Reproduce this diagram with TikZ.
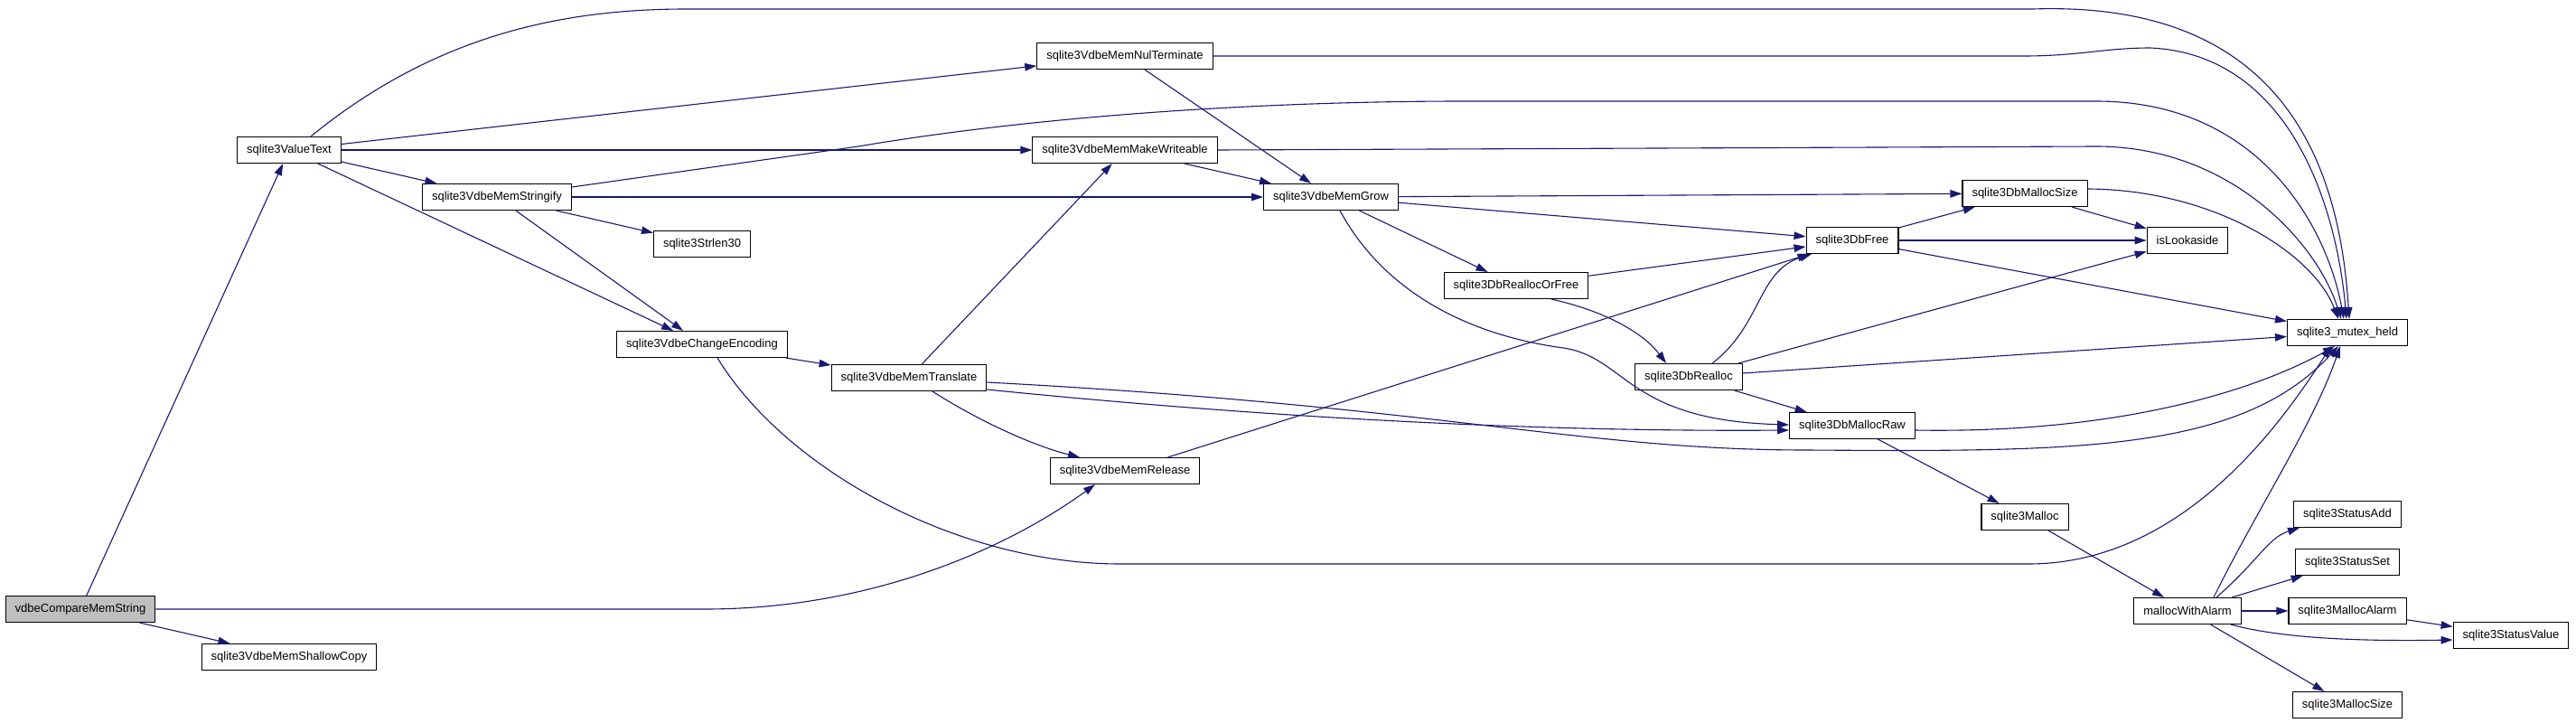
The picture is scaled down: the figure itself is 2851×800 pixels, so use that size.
\documentclass[tikz,border=0pt]{standalone}
\usepackage{fontspec}
\setmainfont{Liberation Sans}
\usetikzlibrary{arrows.meta}
\definecolor{edgeblue}{RGB}{25,25,112}
\definecolor{rootgray}{RGB}{191,191,191}

\begin{document}
\begin{tikzpicture}[
    x=1pt, y=-1pt,
    fn/.style={draw, line width=1.1pt, fill=white, minimum height=29pt, inner xsep=10.5pt, inner ysep=0pt, font=\fontsize{13}{15}\selectfont},
    root/.style={fn, fill=rootgray},
    call/.style={edgeblue, line width=1.1pt, -{Triangle[length=13pt,width=8.5pt]}}
  ]
  \useasboundingbox (0,0) rectangle (2851,800);

  % functions
  \node[root] (cmp) at (89,674) {vdbeCompareMemString};
  \node[fn] (valtext) at (320,166) {sqlite3ValueText};
  \node[fn] (shallow) at (320,727) {sqlite3VdbeMemShallowCopy};
  \node[fn] (stringify) at (550,218) {sqlite3VdbeMemStringify};
  \node[fn] (strlen) at (777,270) {sqlite3Strlen30};
  \node[fn] (chenc) at (777,381) {sqlite3VdbeChangeEncoding};
  \node[fn] (nulterm) at (1245,62) {sqlite3VdbeMemNulTerminate};
  \node[fn] (mkwrite) at (1245,166) {sqlite3VdbeMemMakeWriteable};
  \node[fn] (translate) at (1006,418) {sqlite3VdbeMemTranslate};
  \node[fn] (release) at (1245,521) {sqlite3VdbeMemRelease};
  \node[fn] (grow) at (1473,218) {sqlite3VdbeMemGrow};
  \node[fn] (reallocfree) at (1678,316) {sqlite3DbReallocOrFree};
  \node[fn] (realloc) at (1869,417) {sqlite3DbRealloc};
  \node[fn] (dbfree) at (2050,266) {sqlite3DbFree};
  \node[fn] (mallocraw) at (2050,471) {sqlite3DbMallocRaw};
  \node[fn] (mallocsize) at (2241,214) {sqlite3DbMallocSize};
  \node[fn] (lookaside) at (2421,266) {isLookaside};
  \node[fn] (malloc) at (2241,572) {sqlite3Malloc};
  \node[fn] (mutex) at (2598,368) {sqlite3\_mutex\_held};
  \node[fn] (withalarm) at (2421,676) {mallocWithAlarm};
  \node[fn] (statusadd) at (2598,569) {sqlite3StatusAdd};
  \node[fn] (statusset) at (2598,622) {sqlite3StatusSet};
  \node[fn] (mallocalarm) at (2598,676) {sqlite3MallocAlarm};
  \node[fn] (statusvalue) at (2779,703) {sqlite3StatusValue};
  \node[fn] (msize) at (2598,780) {sqlite3MallocSize};

  % calls from the left part
  \draw[call] (cmp) -- (valtext);
  \draw[call] (cmp) -- (shallow);
  \draw[call] (cmp.east) -- (780,674) .. controls (960,674) and (1110,610) .. ([xshift=-33pt]release.south);
  \draw[call] ([xshift=24pt]valtext.north) .. controls (480,40) and (620,10) .. (760,10) -- (2250,10) .. controls (2540,0) and (2590,200) .. ([xshift=2pt]mutex.north);
  \draw[call] (valtext) -- (nulterm);
  \draw[call] (valtext) -- (mkwrite);
  \draw[call] (valtext) -- (stringify);
  \draw[call] (valtext) -- (chenc);
  \draw[call] ([yshift=11pt]stringify.east) -- (950,162) .. controls (1150,128) and (1400,112) .. (1620,112) -- (2320,112) .. controls (2500,112) and (2575,250) .. ([xshift=-4pt]mutex.north);
  \draw[call] (stringify) -- (grow);
  \draw[call] (stringify) -- (strlen);
  \draw[call] (stringify) -- (chenc);
  \draw[call] ([xshift=17pt]chenc.south) .. controls (870,520) and (1060,624) .. (1240,624) -- (2245,624) .. controls (2420,624) and (2530,460) .. ([xshift=-18pt]mutex.south);
  \draw[call] (chenc) -- (translate);

  % calls from the middle part
  \draw[call] (nulterm.east) -- (2240,62) .. controls (2300,62) and (2330,53) .. (2380,53) .. controls (2530,60) and (2585,220) .. ([xshift=-1pt]mutex.north);
  \draw[call] (nulterm) -- (grow);
  \draw[call] (mkwrite.east) -- (2320,162) .. controls (2470,162) and (2565,270) .. ([xshift=-7pt]mutex.north);
  \draw[call] (mkwrite) -- (grow);
  \draw[call] (translate) -- (mkwrite);
  \draw[call] ([xshift=26pt]translate.south) .. controls (1090,470) and (1150,495) .. ([xshift=-50pt]release.north);
  \draw[call] ([yshift=-5pt]translate.east) .. controls (1600,450) and (1750,498) .. (2000,498) .. controls (2300,500) and (2480,500) .. ([xshift=-10pt]mutex.south);
  \draw[call] ([yshift=-13pt]translate.east) .. controls (1400,462) and (1700,478) .. ([yshift=-5pt]mallocraw.west);
  \draw[call] (release) -- (dbfree);
  \draw[call] (grow) -- (mallocsize);
  \draw[call] (grow) -- (dbfree);
  \draw[call] (grow) -- (reallocfree);
  \draw[call] ([xshift=10pt]grow.south) .. controls (1530,320) and (1620,370) .. (1730,385) .. controls (1800,395) and (1800,465) .. ([yshift=1pt]mallocraw.west);
  \draw[call] (reallocfree) -- (dbfree);
  \draw[call] ([xshift=39pt]reallocfree.south) .. controls (1780,345) and (1820,370) .. ([xshift=-25pt]realloc.north);

  % calls from the right part
  \draw[call] ([xshift=26pt]realloc.north) .. controls (1950,360) and (1945,300) .. ([xshift=-45pt]dbfree.south);
  \draw[call] (realloc) -- (lookaside);
  \draw[call] (realloc) -- (mutex);
  \draw[call] (realloc) -- (mallocraw);
  \draw[call] (dbfree) -- (mallocsize);
  \draw[call] (dbfree) -- (lookaside);
  \draw[call] (dbfree) -- (mutex);
  \draw[call] (mallocsize) -- (lookaside);
  \draw[call] ([yshift=5pt]mallocsize.east) .. controls (2450,210) and (2560,280) .. ([xshift=-10pt]mutex.north);
  \draw[call] ([yshift=-5pt]mallocraw.east) .. controls (2350,480) and (2500,430) .. ([xshift=-14pt]mutex.south);
  \draw[call] (mallocraw) -- (malloc);
  \draw[call] (malloc) -- (withalarm);
  \draw[call] ([xshift=29pt]withalarm.north) .. controls (2500,560) and (2560,470) .. ([xshift=-8pt]mutex.south);
  \draw[call] ([xshift=32pt]withalarm.north) .. controls (2500,620) and (2510,595) .. ([xshift=-53pt]statusadd.south);
  \draw[call] (withalarm) -- (statusset);
  \draw[call] (withalarm) -- (mallocalarm);
  \draw[call] ([xshift=48pt]withalarm.south) .. controls (2520,705) and (2600,710) .. ([yshift=-5pt]statusvalue.west);
  \draw[call] (withalarm) -- (msize);
  \draw[call] (mallocalarm) -- (statusvalue);
\end{tikzpicture}
\end{document}
